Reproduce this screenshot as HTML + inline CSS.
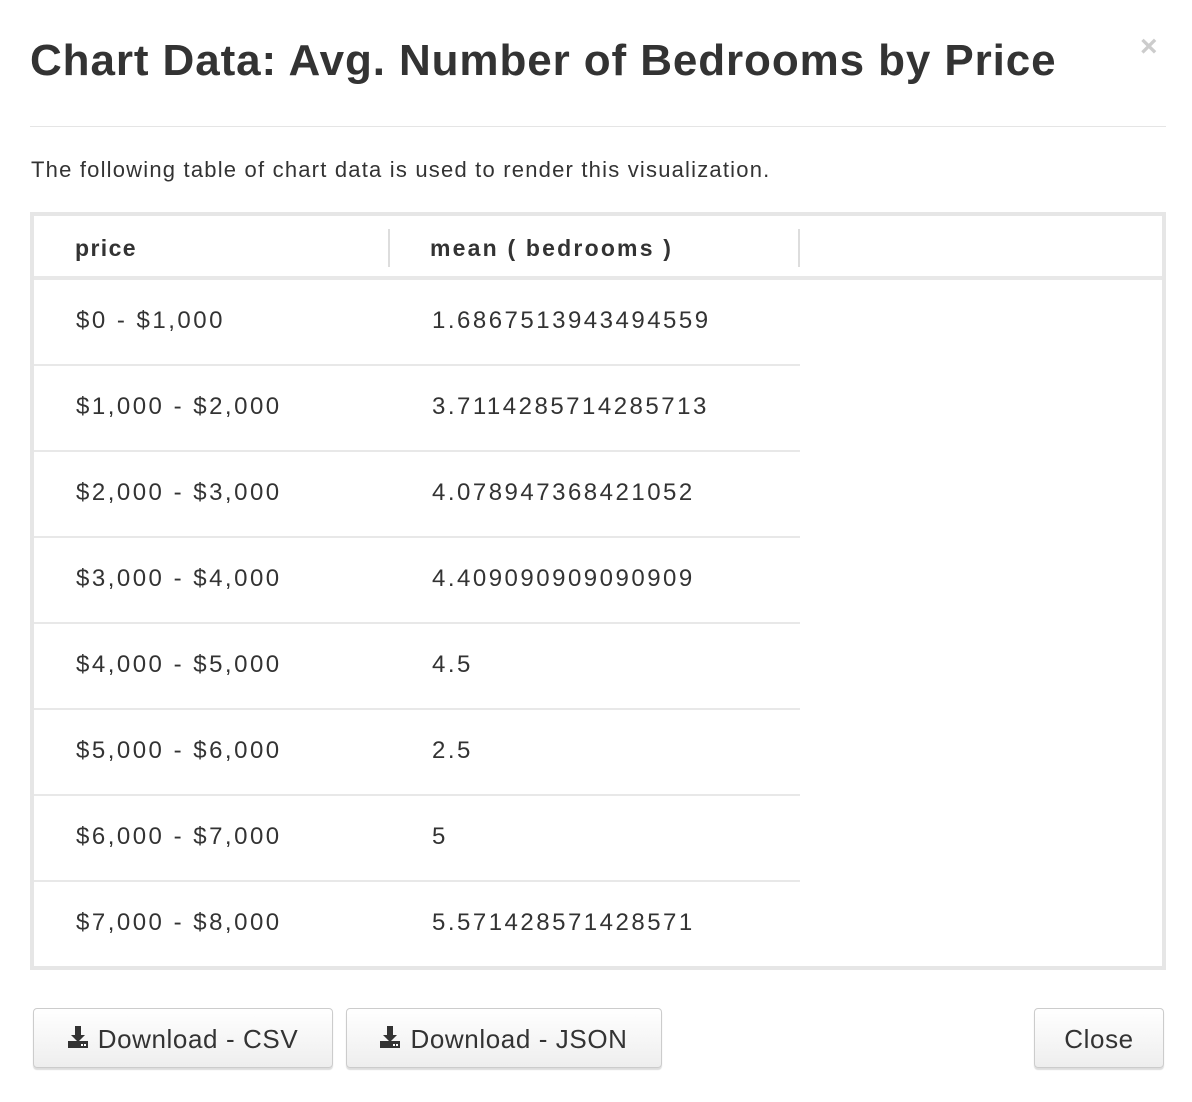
<!DOCTYPE html>
<html><head><style>
body{margin:0;width:1192px;height:1102px;background:#fff;font-family:"Liberation Sans",sans-serif;color:#333;position:relative;overflow:hidden}
.a{position:absolute}
h1{position:absolute;left:30px;top:36px;margin:0;font-size:44px;font-weight:bold;color:#333;letter-spacing:0.9px}
.x{left:1140px;top:30px;font-size:30px;color:#ccc;font-weight:bold}
.hr{left:30px;top:126px;width:1136px;height:1px;background:#e5e5e5}
.p{left:31px;top:157px;font-size:22px;color:#333;letter-spacing:1.2px}
.tbl{left:30px;top:212px;width:1128px;height:750px;border:4px solid #e6e6e6}
.hd{font-size:23px;font-weight:bold;color:#333;top:235px;letter-spacing:2.2px}
.vd{width:2px;height:38px;background:#ddd;top:229px}
.hl{left:34px;top:276px;width:1128px;height:4px;background:#e8e8e8}
.c{font-size:24px;color:#333;letter-spacing:2.5px}
.rl{left:34px;width:766px;height:2px;background:#e8e8e8}
.btn{top:1008px;height:60px;border:1px solid #ccc;border-radius:4px;background:linear-gradient(#fff,#eee);box-shadow:0 2px 1px #ddd;font-size:26px;line-height:60px;text-align:center;color:#333;box-sizing:border-box;letter-spacing:0.6px}
.ic{display:inline-block;vertical-align:middle;margin-right:10px;margin-top:-6px}
</style></head><body>
<h1>Chart Data: Avg. Number of Bedrooms by Price</h1>
<div class="a x">×</div>
<div class="a hr"></div>
<div class="a p">The following table of chart data is used to render this visualization.</div>
<div class="a tbl"></div>
<div class="a hd" style="left:75px;letter-spacing:1.4px">price</div>
<div class="a hd" style="left:430px">mean ( bedrooms )</div>
<div class="a vd" style="left:388px"></div>
<div class="a vd" style="left:798px"></div>
<div class="a hl"></div>

<div class="a c" style="left:76px;top:307px">$0 - $1,000</div><div class="a c" style="left:432px;top:307px">1.6867513943494559</div>
<div class="a rl" style="top:364px"></div>
<div class="a c" style="left:76px;top:393px">$1,000 - $2,000</div><div class="a c" style="left:432px;top:393px">3.7114285714285713</div>
<div class="a rl" style="top:450px"></div>
<div class="a c" style="left:76px;top:479px">$2,000 - $3,000</div><div class="a c" style="left:432px;top:479px">4.078947368421052</div>
<div class="a rl" style="top:536px"></div>
<div class="a c" style="left:76px;top:565px">$3,000 - $4,000</div><div class="a c" style="left:432px;top:565px">4.409090909090909</div>
<div class="a rl" style="top:622px"></div>
<div class="a c" style="left:76px;top:651px">$4,000 - $5,000</div><div class="a c" style="left:432px;top:651px">4.5</div>
<div class="a rl" style="top:708px"></div>
<div class="a c" style="left:76px;top:737px">$5,000 - $6,000</div><div class="a c" style="left:432px;top:737px">2.5</div>
<div class="a rl" style="top:794px"></div>
<div class="a c" style="left:76px;top:823px">$6,000 - $7,000</div><div class="a c" style="left:432px;top:823px">5</div>
<div class="a rl" style="top:880px"></div>
<div class="a c" style="left:76px;top:909px">$7,000 - $8,000</div><div class="a c" style="left:432px;top:909px">5.571428571428571</div>

<div class="a btn" style="left:33px;width:300px"><svg class="ic" width="20" height="24" viewBox="0 0 20 24"><path d="M7 0h6v9h4l-7 7-7-7h4z" fill="#333"/><rect x="0" y="15" width="20" height="7" fill="#333"/><rect x="13" y="18" width="2" height="2" fill="#fff"/><rect x="16" y="18" width="2" height="2" fill="#fff"/></svg>Download - CSV</div>
<div class="a btn" style="left:346px;width:316px"><svg class="ic" width="20" height="24" viewBox="0 0 20 24"><path d="M7 0h6v9h4l-7 7-7-7h4z" fill="#333"/><rect x="0" y="15" width="20" height="7" fill="#333"/><rect x="13" y="18" width="2" height="2" fill="#fff"/><rect x="16" y="18" width="2" height="2" fill="#fff"/></svg>Download - JSON</div>
<div class="a btn" style="left:1034px;width:130px">Close</div>
</body></html>
